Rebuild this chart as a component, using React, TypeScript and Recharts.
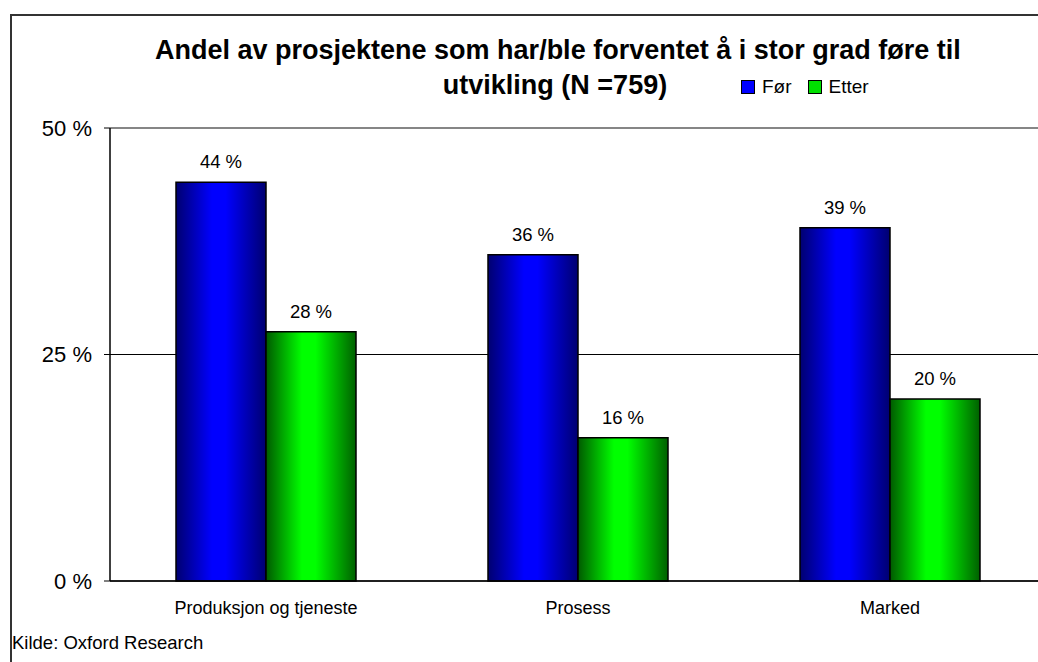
import React from 'react';
import { BarChart, Bar, XAxis, YAxis, CartesianGrid, ReferenceLine, LabelList } from 'recharts';

const categories = ['Produksjon og tjeneste', 'Prosess', 'Marked'];
const before = [44, 36, 39];
const after = [27.5, 15.8, 20.1];
const yTicks = [0, 25, 50];
const seriesNames = ['Før', 'Etter'];

const data = categories.map((name, i) => ({ name, before: before[i], after: after[i] }));

const font = '"Liberation Sans", Arial, sans-serif';
const pct = (v: any) => `${Math.round(Number(v))} %`;

const titleStyle: React.CSSProperties = {
  position: 'absolute',
  left: 155,
  width: 800,
  textAlign: 'center',
  fontFamily: font,
  fontWeight: 'bold',
  fontSize: 27,
  lineHeight: '32px',
  whiteSpace: 'nowrap',
};

export default function App() {
  return (
    <div style={{ position: 'absolute', left: 0, top: 0, width: 1038, height: 662, overflow: 'hidden', background: '#fff' }}>
      <div style={{ position: 'absolute', left: 10, top: 14, width: 1200, height: 800, borderTop: '2px solid #333', borderLeft: '2px solid #333' }} />
      <div style={{ ...titleStyle, top: 34 }}>Andel av prosjektene som har/ble forventet å i stor grad føre til</div>
      <div style={{ ...titleStyle, top: 69 }}>utvikling (N =759)</div>
      {/* legend */}
      <div style={{ position: 'absolute', left: 741, top: 76, display: 'flex', alignItems: 'center', fontFamily: font, fontSize: 19, lineHeight: '22px' }}>
        <span style={{ width: 12, height: 12, background: '#0000ff', border: '1px solid #000', marginRight: 7 }} />
        <span style={{ marginRight: 16 }}>{seriesNames[0]}</span>
        <span style={{ width: 12, height: 12, background: '#00e000', border: '1px solid #000', marginRight: 7 }} />
        <span>{seriesNames[1]}</span>
      </div>
      <div style={{ position: 'absolute', left: 12, top: 632, fontFamily: font, fontSize: 18.5 }}>Kilde: Oxford Research</div>
      <div style={{ position: 'absolute', left: 0, top: 0 }}>
        <BarChart width={1100} height={662} data={data} margin={{ top: 128, right: 54, left: 0, bottom: 0 }} barGap={0} barSize={90}>
          <defs>
            <linearGradient id="gBlue" x1="0" y1="0" x2="1" y2="0">
              <stop offset="0%" stopColor="#000070" />
              <stop offset="40%" stopColor="#0000ff" />
              <stop offset="55%" stopColor="#0000ff" />
              <stop offset="100%" stopColor="#000070" />
            </linearGradient>
            <linearGradient id="gGreen" x1="0" y1="0" x2="1" y2="0">
              <stop offset="0%" stopColor="#005a00" />
              <stop offset="40%" stopColor="#00ff00" />
              <stop offset="55%" stopColor="#00ff00" />
              <stop offset="100%" stopColor="#006000" />
            </linearGradient>
          </defs>
          <CartesianGrid vertical={false} stroke="#000" strokeWidth={1} />
          <ReferenceLine y={50} stroke="#888" strokeWidth={1.5} />
          <XAxis
            dataKey="name"
            height={81}
            tickLine={false}
            tickSize={0}
            tickMargin={20}
            axisLine={{ stroke: '#000', strokeWidth: 1.5 }}
            tick={{ fill: '#000', fontSize: 18, fontFamily: font }}
          />
          <YAxis
            width={110}
            domain={[0, 50]}
            ticks={yTicks}
            interval={0}
            tickFormatter={(v: number) => `${v} %`}
            tickSize={6}
            tickMargin={12}
            tickLine={{ stroke: '#000' }}
            axisLine={{ stroke: '#000', strokeWidth: 1.5 }}
            tick={{ fill: '#000', fontSize: 22, fontFamily: font }}
          />
          <Bar dataKey="before" name={seriesNames[0]} fill="url(#gBlue)" stroke="#000" strokeWidth={1.5} isAnimationActive={false}>
            <LabelList dataKey="before" position="top" offset={14} formatter={pct} style={{ fill: '#000', fontSize: 18.5, fontFamily: font }} />
          </Bar>
          <Bar dataKey="after" name={seriesNames[1]} fill="url(#gGreen)" stroke="#000" strokeWidth={1.5} isAnimationActive={false}>
            <LabelList dataKey="after" position="top" offset={14} formatter={pct} style={{ fill: '#000', fontSize: 18.5, fontFamily: font }} />
          </Bar>
        </BarChart>
      </div>
    </div>
  );
}
